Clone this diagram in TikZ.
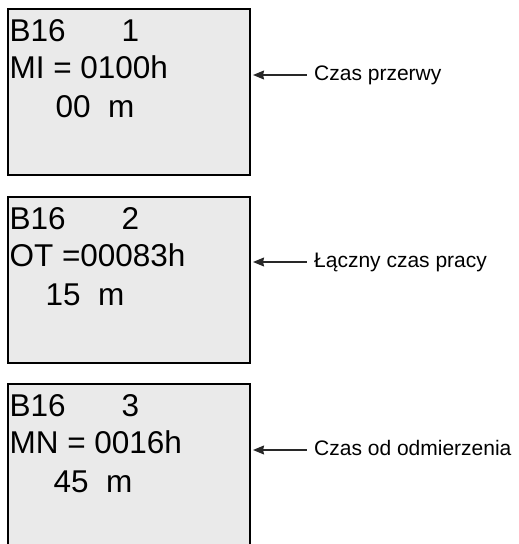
\documentclass[tikz,border=0pt]{standalone}
\usepackage{fontspec}
\setmainfont{Liberation Sans}
\usepackage{tikz}
\usetikzlibrary{arrows.meta, positioning}
\definecolor{tlo}{RGB}{234,234,234}
\definecolor{kreska}{RGB}{40,40,40}
\tikzset{
  ekran/.style={rectangle, draw=black, fill=tlo, line width=1.3pt,
    minimum width=242pt, minimum height=166pt, inner sep=0pt},
  wiersz/.style={anchor=base west, inner sep=0pt,
    font=\fontsize{31.5}{36}\selectfont},
  opis/.style={anchor=west, inner sep=0pt, text height=14pt, text depth=3pt,
    font=\fontsize{21}{25}\selectfont},
  strzalka/.style={{Stealth[length=11pt, width=9pt, inset=1pt]}-, line width=1.1pt,
    color=kreska, shorten <=2.4pt, shorten >=7pt}
}
\begin{document}
\begin{tikzpicture}[x=1pt, y=-1pt]
  \clip (0,0) rectangle (519,544);
  % okno 1
  \node[ekran] (ekr1) at (129,92) {};
  \node[wiersz] (nag1) at ([xshift=2pt, yshift=-33pt]ekr1.north west) {B16};
  \node[wiersz] (nr1) at ([xshift=114pt, yshift=-33pt]ekr1.north west) {1};
  \node[wiersz] (war1) at ([xshift=2pt, yshift=-70pt]ekr1.north west) {MI = 0100h};
  \node[wiersz] (min1) at ([xshift=48pt, yshift=-109pt]ekr1.north west) {00~~m};
  \node[opis] (opis1) at (314,75) {Czas przerwy};
  % okno 2
  \node[ekran] (ekr2) at (129,280) {};
  \node[wiersz] (nag2) at ([xshift=2pt, yshift=-33pt]ekr2.north west) {B16};
  \node[wiersz] (nr2) at ([xshift=114pt, yshift=-33pt]ekr2.north west) {2};
  \node[wiersz] (war2) at ([xshift=2pt, yshift=-70pt]ekr2.north west) {OT =00083h};
  \node[wiersz] (min2) at ([xshift=38pt, yshift=-109pt]ekr2.north west) {15~~m};
  \node[opis] (opis2) at (314,262) {Łączny czas pracy};
  % okno 3
  \node[ekran] (ekr3) at (129,467) {};
  \node[wiersz] (nag3) at ([xshift=2pt, yshift=-33pt]ekr3.north west) {B16};
  \node[wiersz] (nr3) at ([xshift=114pt, yshift=-33pt]ekr3.north west) {3};
  \node[wiersz] (war3) at ([xshift=2pt, yshift=-70pt]ekr3.north west) {MN = 0016h};
  \node[wiersz] (min3) at ([xshift=46pt, yshift=-109pt]ekr3.north west) {45~~m};
  \node[opis] (opis3) at (314,450) {Czas od odmierzenia};
  % strzalki
  \draw[strzalka] (opis1.west -| ekr1.east) -- (opis1.west);
  \draw[strzalka] (opis2.west -| ekr2.east) -- (opis2.west);
  \draw[strzalka] (opis3.west -| ekr3.east) -- (opis3.west);
\end{tikzpicture}
\end{document}
